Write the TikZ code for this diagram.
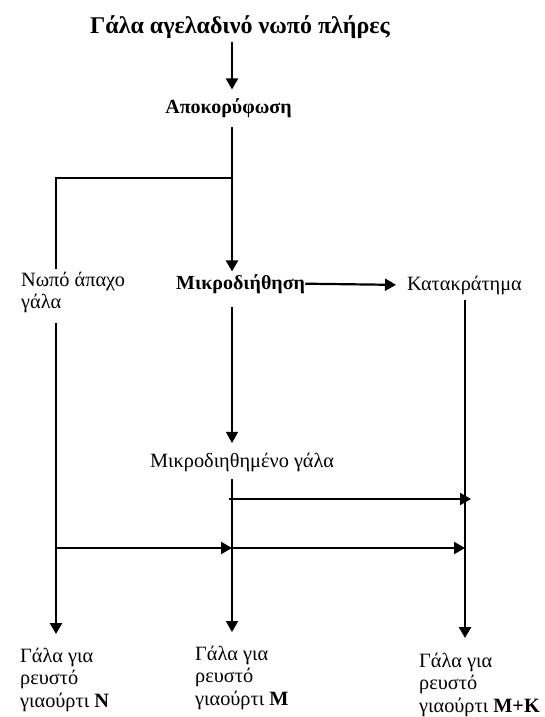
\documentclass[tikz,border=0pt]{standalone}
\usepackage{fontspec}
\setmainfont{Liberation Serif}
\usetikzlibrary{arrows.meta}
\tikzset{
  txt/.style={font=\fontsize{20.3}{22.5}\selectfont, inner sep=0pt},
  btxt/.style={font=\fontsize{20}{23}\selectfont\bfseries, inner sep=0pt},
  thk/.style={line width=2.2pt},
  thn/.style={line width=1.3pt},
  arr/.style={-{Triangle[length=11pt,width=12pt]}},
}
\begin{document}
\begin{tikzpicture}[x=1pt,y=-1pt]
\useasboundingbox (0,0) rectangle (545,717);
\coordinate (main) at (232,0);
\coordinate (lft) at (56,0);
\coordinate (rgt) at (465,0);
\node[font=\fontsize{24}{28}\selectfont\bfseries, inner sep=0pt, anchor=base] (title) at (240,34) {Γάλα αγελαδινό νωπό πλήρες};
\node[btxt, anchor=base] (apok) at (228.5,113) {Αποκορύφωση};
\node[btxt, anchor=base west] (mikro) at (176,289) {Μικροδιήθηση};
\node[txt, anchor=base west] (katak) at (407,290) {Κατακράτημα};
\node[txt, anchor=north west, align=left] (nopo) at (21,271.5) {Νωπό άπαχο\\γάλα};
\node[txt, anchor=base west] (mdg) at (150,467) {Μικροδιηθημένο γάλα};
\node[txt, anchor=north west, align=left] (outN) at (20,647.5) {Γάλα για\\ρευστό\\γιαούρτι \textbf{Ν}};
\node[txt, anchor=north west, align=left] (outM) at (195,645.5) {Γάλα για\\ρευστό\\γιαούρτι \textbf{Μ}};
\node[txt, anchor=north west, align=left] (outMK) at (419,652.5) {Γάλα για\\ρευστό\\γιαούρτι \textbf{Μ+Κ}};
\coordinate (split) at (232,178);
\coordinate (uS) at (229,499);
\coordinate (uE) at (471,499);
\coordinate (lowL) at (56,548);
\coordinate (lowM) at (232,548);
\coordinate (lowR) at (465,548);
\coordinate (rBot) at (465,582);
\draw[thk,arr,shorten <=3pt,shorten >=8.5pt] (title.south -| main) -- (apok.north -| main);
\draw[thk,arr,shorten <=9.6pt,shorten >=2.5pt] (apok.south -| main) -- (mikro.north -| main);
\draw[thn] (split) -| ([yshift=3pt]nopo.north -| lft);
\draw[thk,arr,shorten >=11pt] (mikro.east) -- (katak.west);
\draw[thn,arr,shorten <=13.6pt,shorten >=9.5pt] (mikro.south -| main) -- (mdg.north -| main);
\draw[thn,shorten <=5.6pt] (katak.south -| rgt) -- (rBot);
\draw[line width=2.6pt,arr,shorten >=14.5pt] (rBot) -- (outMK.north -| rgt);
\draw[line width=2.6pt,arr,shorten <=9.6pt,shorten >=13.5pt] (nopo.south -| lft) -- (outN.north -| lft);
\draw[line width=1.6pt,arr,shorten <=7.6pt,shorten >=13.5pt] (mdg.south -| main) -- (outM.north -| main);
\draw[thk,arr] (uS) -- (uE);
\draw[thk,arr] (lowL) -- (lowM);
\draw[thk,arr] (lowM) -- (lowR);
\end{tikzpicture}
\end{document}
